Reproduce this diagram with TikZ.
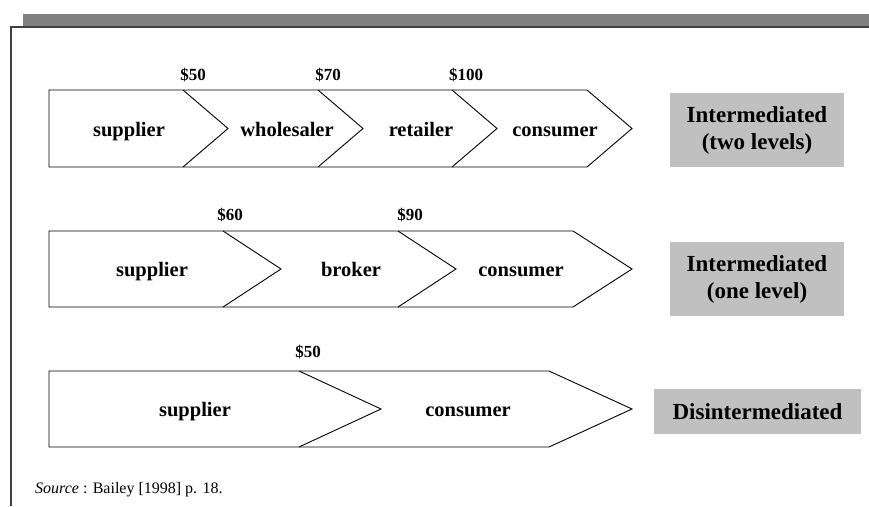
\documentclass[tikz,border=0pt]{standalone}
\usepackage{fontspec}
\setmainfont{Liberation Serif}
\usepackage{tikz}

\definecolor{barre}{HTML}{808080}
\definecolor{bord}{HTML}{404040}
\definecolor{grisboite}{HTML}{C0C0C0}

\begin{document}
\begin{tikzpicture}[x=1pt, y=-1pt]
			\tikzset{etape/.style={font=\fontsize{20.5}{22}\selectfont\bfseries, inner sep=0pt, anchor=base},
			prix/.style={font=\fontsize{17}{19}\selectfont\bfseries, inner sep=0pt, anchor=base},
			boite/.style={fill=grisboite, font=\fontsize{23}{27}\selectfont\bfseries, align=center, inner sep=0pt},
			chevron/.style={draw=black, line width=0.9pt, line join=miter}};

			\useasboundingbox (0, 0) rectangle (869, 506);

			% bandeau et cadre
			\fill[barre] (23, 14) rectangle (869, 27);
			\draw[bord, line width=1.5pt] (11, 506) -- (11, 27) -- (869, 27);

			% deux niveaux
			\draw[chevron] (49, 90) -- (587, 90) -- (632, 128.5) -- (587, 167) -- (49, 167) -- cycle;
			\foreach \x in {183, 318, 452}{
				\draw[chevron] (\x, 90) -- (\x+45, 128.5) -- (\x, 167);
			}
			\node[etape] (s1) at (129, 136) {supplier};
			\node[etape] (w1) at (287, 136) {wholesaler};
			\node[etape] (r1) at (421, 136) {retailer};
			\node[etape] (c1) at (555, 136) {consumer};
			\node[prix] (p50a) at (193, 80) {\$50};
			\node[prix] (p70) at (328, 80) {\$70};
			\node[prix] (p100) at (466, 80) {\$100};
			\node[boite, minimum width=174pt, minimum height=74pt] (b1) at (757, 130) {Intermediated\\(two levels)};

			% un niveau
			\draw[chevron] (49, 231) -- (573, 231) -- (632, 269) -- (573, 307) -- (49, 307) -- cycle;
			\foreach \x in {223, 398}{
				\draw[chevron] (\x, 231) -- (\x+58, 269) -- (\x, 307);
			}
			\node[etape] (s2) at (152, 276) {supplier};
			\node[etape] (k2) at (351, 276) {broker};
			\node[etape] (c2) at (521, 276) {consumer};
			\node[prix] (p60) at (230, 220) {\$60};
			\node[prix] (p90) at (410, 220) {\$90};
			\node[boite, minimum width=174pt, minimum height=74pt] (b2) at (757, 279) {Intermediated\\(one level)};

			% sans intermediaire
			\draw[chevron] (49, 371) -- (549, 371) -- (632, 409) -- (549, 447) -- (49, 447) -- cycle;
			\draw[chevron] (299, 371) -- (381, 409) -- (299, 447);
			\node[etape] (s3) at (195, 416) {supplier};
			\node[etape] (c3) at (468, 416) {consumer};
			\node[prix] (p50b) at (308, 357) {\$50};
			\node[boite, minimum width=207pt, minimum height=45pt] (b3) at (757.5, 411.5) {Disintermediated};

			\node[anchor=west, inner sep=0pt, font=\fontsize{16}{18}\selectfont] (src) at (35, 490) {\textit{Source} : Bailey [1998] p. 18.};
		\end{tikzpicture}
\end{document}
